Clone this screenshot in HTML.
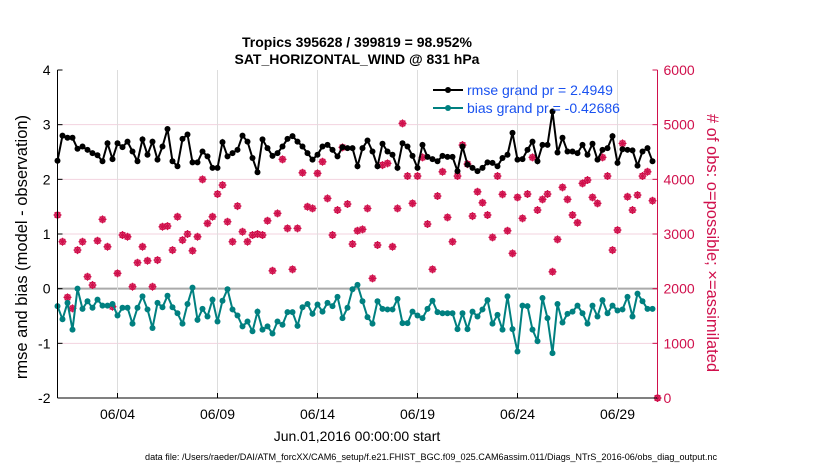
<!DOCTYPE html>
<html><head><meta charset="utf-8"><style>
body{margin:0;background:#fff;}
svg text{font-family:"Liberation Sans",Arial,sans-serif;}
</style></head><body>
<svg id="chart" width="830" height="470" xmlns="http://www.w3.org/2000/svg">
<rect width="830" height="470" fill="#fff"/>
<g id="grid"></g>
<g id="series"></g>
<g id="axes"></g>
<text x="357" y="47" text-anchor="middle" font-size="14" font-weight="bold">Tropics 395628 / 399819 = 98.952%</text>
<text x="357" y="64" text-anchor="middle" font-size="14" font-weight="bold">SAT_HORIZONTAL_WIND @ 831 hPa</text>
<text transform="translate(27,247) rotate(-90)" text-anchor="middle" font-size="16.5">rmse and bias (model - observation)</text>
<text transform="translate(707,243) rotate(90)" text-anchor="middle" font-size="16.5" fill="#d0104c"># of obs: o=possible; ×=assimilated</text>
<text x="357" y="441" text-anchor="middle" font-size="14">Jun.01,2016 00:00:00 start</text>
<text x="431" y="460" text-anchor="middle" font-size="9" textLength="572" lengthAdjust="spacingAndGlyphs">data file: /Users/raeder/DAI/ATM_forcXX/CAM6_setup/f.e21.FHIST_BGC.f09_025.CAM6assim.011/Diags_NTrS_2016-06/obs_diag_output.nc</text>
<g>
<line x1="433" y1="90" x2="463" y2="90" stroke="#000" stroke-width="2"/><circle cx="448" cy="90" r="3" fill="#000"/>
<text x="467" y="95" font-size="14" fill="#1a52f0">rmse grand pr = 2.4949</text>
<line x1="433" y1="108" x2="463" y2="108" stroke="#008080" stroke-width="2"/><circle cx="448" cy="108" r="3" fill="#008080"/>
<text x="467" y="113" font-size="14" fill="#1a52f0">bias grand pr = -0.42686</text>
</g>
</svg>
<script>
const rmse=[2.34,2.80,2.76,2.76,2.56,2.60,2.54,2.48,2.44,2.33,2.66,2.37,2.66,2.59,2.69,2.51,2.33,2.73,2.45,2.69,2.36,2.60,2.92,2.33,2.24,2.74,2.82,2.31,2.31,2.51,2.42,2.21,2.21,2.68,2.42,2.48,2.54,2.80,2.69,2.39,
2.13,2.73,2.57,2.43,2.48,2.60,2.74,2.79,2.69,2.60,2.48,2.36,2.45,2.60,2.63,2.54,2.42,2.59,2.57,2.57,2.24,2.57,2.71,2.51,2.24,2.65,2.51,2.45,2.21,2.66,2.60,2.43,2.21,2.63,2.41,2.37,2.33,2.43,2.41,2.41,
2.15,2.60,2.27,2.21,2.15,2.21,2.31,2.30,2.24,2.39,2.45,2.85,2.36,2.37,2.54,2.69,2.33,2.63,2.63,3.24,2.49,2.76,2.51,2.51,2.48,2.63,2.45,2.65,2.36,2.54,2.57,2.79,2.30,2.55,2.54,2.53,2.25,2.51,2.57,2.33];
const bias=[-0.32,-0.56,-0.26,-0.75,0.00,-0.37,-0.23,-0.35,-0.20,-0.31,-0.31,-0.28,-0.49,-0.35,-0.35,-0.64,-0.35,-0.14,-0.38,-0.72,-0.26,-0.34,-0.13,-0.34,-0.45,-0.64,-0.28,0.02,-0.57,-0.37,-0.51,-0.20,-0.60,-0.22,-0.01,-0.38,-0.49,-0.69,-0.60,-0.78,
-0.42,-0.75,-0.69,-0.82,-0.60,-0.66,-0.43,-0.43,-0.68,-0.34,-0.28,-0.46,-0.29,-0.42,-0.26,-0.32,-0.15,-0.54,-0.35,-0.01,0.07,-0.23,-0.52,-0.64,-0.23,-0.37,-0.38,-0.38,-0.19,-0.63,-0.63,-0.42,-0.49,-0.54,-0.37,-0.22,-0.43,-0.45,-0.45,-0.45,
-0.74,-0.45,-0.74,-0.42,-0.51,-0.38,-0.21,-0.64,-0.48,-0.75,-0.14,-0.74,-1.15,-0.31,-0.32,-0.75,-0.96,-0.17,-0.54,-1.18,-0.28,-0.62,-0.46,-0.42,-0.31,-0.45,-0.64,-0.31,-0.51,-0.21,-0.45,-0.31,-0.40,-0.38,-0.15,-0.51,-0.09,-0.23,-0.37,-0.37];
const nobs=[3347,2859,1841,1639,2706,2859,2219,2066,2877,3267,2767,1670,2280,2981,2950,2036,2475,2767,2511,2036,2523,3133,3145,2706,3316,2889,2999,2694,2950,3999,3194,3316,3731,3895,3225,2859,3511,3042,2859,2981,
2999,2981,3243,2328,3377,4365,3103,2353,3103,4121,3499,3468,4109,4322,3651,2981,3438,4584,3548,2816,3060,3084,3468,2188,2798,4261,4292,2767,3468,5023,4060,3560,4060,4401,3182,2353,3694,4139,3304,2859,
4060,4627,4279,3328,3773,3572,3347,2938,4060,3725,3060,2645,3670,3286,3731,4401,3438,3633,3731,2310,2901,3853,3633,3347,3206,3926,3987,3670,3560,4401,4060,2706,3072,4657,3682,3438,3712,4060,4139,3609,0];
const leftTicks=[-2,-1,0,1,2,3,4];
const rightTicks=[0,1000,2000,3000,4000,5000,6000];
const dateTicks=[3,8,13,18,23,28];
const dateLabels=["06/04","06/09","06/14","06/19","06/24","06/29"];

const NS="http://www.w3.org/2000/svg";
const X0=57.5,X1=657.5,Y0=398,Y1=70;
const xs=d=>X0+(d/30)*(X1-X0);
const yl=v=>Y0-(v+2)/6*(Y0-Y1);
const yr=v=>Y0-v/6000*(Y0-Y1);
function mk(tag,attrs,parent){const e=document.createElementNS(NS,tag);for(const k in attrs)e.setAttribute(k,attrs[k]);parent.appendChild(e);return e;}
const grid=document.getElementById('grid'),ser=document.getElementById('series'),ax=document.getElementById('axes');

leftTicks.forEach(t=>{
  const y=yl(t);
  if(t>-2&&t<4){const g=mk('line',{x1:X0,x2:X1,y1:y,y2:y,stroke:t===0?'#aaaaaa':'#f3d3df','stroke-width':t===0?2:1},grid);
  
  }
  const tk=mk('line',{x1:X0,x2:X0+5,y1:y,y2:y,stroke:'#000'},ax);
  
  
  const tx=mk('text',{x:X0-7,y:y+5,'text-anchor':'end','font-size':14},ax);tx.textContent=t;
  
  
});
rightTicks.forEach(t=>{
  const y=yr(t);
  const tk=mk('line',{x1:X1-5,x2:X1,y1:y,y2:y,stroke:'#d0104c'},ax);
  
  
  const tx=mk('text',{x:X1+6,y:y+5,'font-size':14,fill:'#d0104c'},ax);tx.textContent=t;
  
  
});
dateTicks.forEach((d,i)=>{
  const x=xs(d);
  const g=mk('line',{x1:x,x2:x,y1:Y1,y2:Y0,stroke:'#dddddd'},grid);
  
  
  const tk=mk('line',{x1:x,x2:x,y1:Y0,y2:Y0-5,stroke:'#000'},ax);
  
  
  const tx=mk('text',{x:x,y:Y0+21,'text-anchor':'middle','font-size':14},ax);tx.textContent=dateLabels[i];
  
  
});
const la=mk('line',{x1:X0,x2:X0,y1:Y1,y2:Y0,stroke:'#000'},ax);


const ba=mk('line',{x1:X0,x2:X1,y1:Y0,y2:Y0,stroke:'#000'},ax);


const ra=mk('line',{x1:X1,x2:X1,y1:Y1,y2:Y0,stroke:'#d0104c'},ax);



nobs.forEach((v,i)=>{
  const x=xs(i*0.25),y=yr(v);
  const g=mk('g',{},ser);
  
  
  mk('circle',{cx:x,cy:y,r:2.8,fill:'none',stroke:'#d0104c','stroke-width':1.3},g);
  mk('path',{d:`M${x-4} ${y}H${x+4}M${x} ${y-4}V${y+4}M${x-2.8} ${y-2.8}L${x+2.8} ${y+2.8}M${x-2.8} ${y+2.8}L${x+2.8} ${y-2.8}`,stroke:'#d0104c','stroke-width':1.2},g);
});
function line(arr,col,name){
  const pts=arr.map((v,i)=>xs(i*0.25).toFixed(1)+','+yl(v).toFixed(1)).join(' ');
  const pl=mk('polyline',{points:pts,fill:'none',stroke:col,'stroke-width':2},ser);
  
  
  arr.forEach((v,i)=>{
    const c=mk('circle',{cx:xs(i*0.25),cy:yl(v),r:3,fill:col},ser);
    
    
  });
}
line(bias,'#008080','bias');
line(rmse,'#000000','rmse');
</script>
</body></html>
